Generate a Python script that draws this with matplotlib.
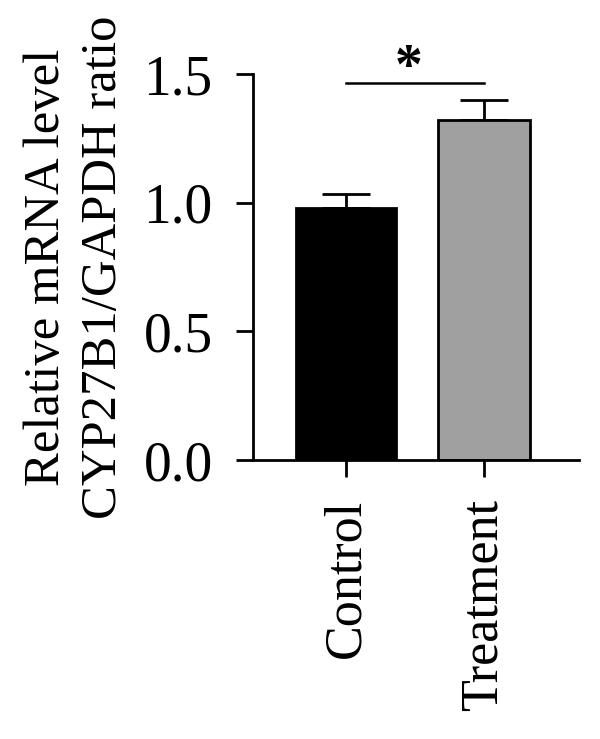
import matplotlib
matplotlib.use("Agg")
import matplotlib.pyplot as plt

groups = ["Control", "Treatment"]
means = [0.981, 1.322]
errors = [0.052, 0.078]
colors = ["#000000", "#a0a0a0"]
yticks = [0.0, 0.5, 1.0, 1.5]
sig_y = 1.465
sig_label = "*"

plt.rcParams["font.family"] = ["Liberation Serif", "DejaVu Serif"]

fig = plt.figure(figsize=(6, 7.39), dpi=100)
ax = fig.add_axes([0.4217, 0.3775, 0.5433, 0.522])

x = list(range(len(groups)))
ax.bar(x, means, width=[0.725, 0.67], color=colors, edgecolor="black",
       linewidth=2.0, zorder=2)
ax.errorbar(x, means, yerr=[[0, 0], errors], fmt="none", ecolor="black",
            elinewidth=2.0, capsize=17, capthick=2.0, zorder=1)

# significance bar
ax.plot([x[0], x[1]], [sig_y, sig_y], color="black", lw=1.8, clip_on=False)
ax.text((x[0] + x[1]) / 2 - 0.05, sig_y - 0.045, sig_label, ha="center",
        va="bottom", fontsize=40, fontweight="bold", clip_on=False)

ax.set_xlim(-0.674, 1.688)
ax.set_ylim(0, 1.5)
ax.set_yticks(yticks)
ax.set_yticklabels([f"{v:.1f}" for v in yticks], fontsize=40)
ax.set_xticks(x)
ax.set_xticklabels(groups, rotation=90, fontsize=37.5)

for s in ["top", "right"]:
    ax.spines[s].set_visible(False)
for s in ["left", "bottom"]:
    ax.spines[s].set_linewidth(2.0)

ax.tick_params(axis="both", length=12, width=2.0)
ax.tick_params(axis="y", pad=17)
ax.tick_params(axis="x", pad=16)

ax.set_ylabel("Relative mRNA level\nCYP27B1/GAPDH ratio", fontsize=36.5,
              labelpad=12, linespacing=1.3)

fig.savefig("out.png", dpi=100)
